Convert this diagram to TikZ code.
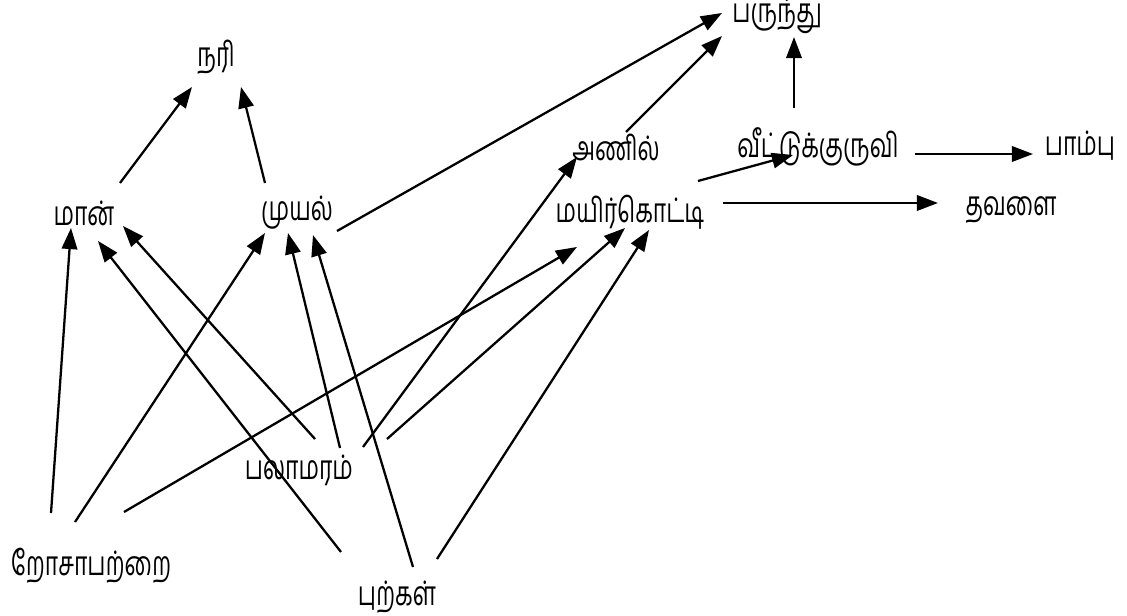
\documentclass[tikz,border=0pt]{standalone}
\usepackage{fontspec}
\newfontfamily\tamilfont[Script=Tamil,FakeStretch=0.68]{Hind Madurai}
\usetikzlibrary{arrows.meta}
\tikzset{
  uyir/.style={font=\tamilfont\fontsize{9.6}{11}\selectfont, inner sep=0pt},
  unavu/.style={->, line width=0.65pt}
}
\begin{document}
\begin{tikzpicture}[>={Triangle[length=6pt,width=4.4pt]},x=0.01cm,y=-0.01cm]
	\useasboundingbox (0,0) rectangle (1127,616);
	%Uyirinangal
	\node[uyir] (nari) at (216,57) {நரி};
	\node[uyir] (maan) at (84,213) {மான்};
	\node[uyir] (muyal) at (297,213) {முயல்};
	\node[uyir] (anil) at (616,147) {அணில்};
	\node[uyir] (kuruvi) at (818,147) {வீட்டுக்குருவி};
	\node[uyir] (parunthu) at (777,16) {பருந்து};
	\node[uyir] (paambu) at (1080,146) {பாம்பு};
	\node[uyir] (thavalai) at (1011,210) {தவளை};
	\node[uyir] (kotti) at (630,212) {மயிர்கொட்டி};
	\node[uyir] (palamaram) at (299,470) {பலாமரம்};
	\node[uyir] (rosa) at (91,566) {றோசாபற்றை};
	\node[uyir] (pul) at (397,597) {புற்கள்};
	%Mel adukku
	\draw[unavu] ([shift={(36,-30)}]maan.center) -- ([shift={(-24,30)}]nari.center);
	\draw[unavu] ([shift={(-32,-30)}]muyal.center) -- ([shift={(25,30)}]nari.center);
	\draw[unavu] ([shift={(40,18)}]muyal.center) -- ([shift={(-55,-3)}]parunthu.center);
	\draw[unavu] ([shift={(10,-15)}]anil.center) -- ([shift={(-55,20)}]parunthu.center);
	\draw[unavu] ([shift={(-24,-39)}]kuruvi.center) -- ([shift={(17,21)}]parunthu.center);
	\draw[unavu] ([shift={(68,-31)}]kotti.center) -- ([shift={(-25,8)}]kuruvi.center);
	\draw[unavu] ([shift={(97,7)}]kuruvi.center) -- ([shift={(-47,8)}]paambu.center);
	\draw[unavu] ([shift={(93,-9)}]kotti.center) -- ([shift={(-73,-7)}]thavalai.center);
	%Rosa
	\draw[unavu] ([shift={(-40,-53)}]rosa.center) -- ([shift={(-13,15)}]maan.center);
	\draw[unavu] ([shift={(-16,-44)}]rosa.center) -- ([shift={(-32,20)}]muyal.center);
	\draw[unavu] ([shift={(33,-54)}]rosa.center) -- ([shift={(-53,35)}]kotti.center);
	%Palamaram
	\draw[unavu] ([shift={(16,-31)}]palamaram.center) -- ([shift={(39,13)}]maan.center);
	\draw[unavu] ([shift={(41,-22)}]palamaram.center) -- ([shift={(-9,20)}]muyal.center);
	\draw[unavu] ([shift={(64,-23)}]palamaram.center) -- ([shift={(-39,10)}]anil.center);
	\draw[unavu] ([shift={(88,-31)}]palamaram.center) -- ([shift={(-5,16)}]kotti.center);
	%Pulkal
	\draw[unavu] ([shift={(-56,-45)}]pul.center) -- ([shift={(14,28)}]maan.center);
	\draw[unavu] ([shift={(16,-30)}]pul.center) -- ([shift={(16,22)}]muyal.center);
	\draw[unavu] ([shift={(40,-38)}]pul.center) -- ([shift={(19,18)}]kotti.center);
\end{tikzpicture}
\end{document}
